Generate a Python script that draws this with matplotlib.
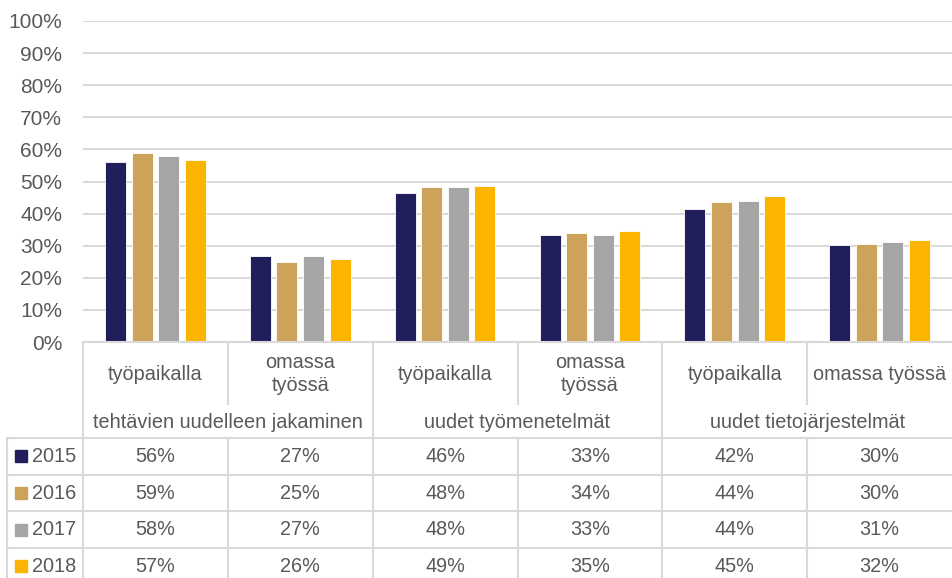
import numpy as np
import matplotlib
matplotlib.use("Agg")
import matplotlib.pyplot as plt

plt.rcParams['font.family'] = ['Liberation Sans', 'DejaVu Sans']

# data
groups = ["tehtävien uudelleen jakaminen", "uudet työmenetelmät", "uudet tietojärjestelmät"]
subcats = ["työpaikalla", "omassa\ntyössä", "työpaikalla", "omassa\ntyössä", "työpaikalla", "omassa työssä"]
years = ["2015", "2016", "2017", "2018"]
colors = ["#201F5B", "#CDA25A", "#A5A5A5", "#FBB500"]
v2015 = [56.2, 26.9, 46.4, 33.4, 41.5, 30.1]
v2016 = [58.8, 24.8, 48.4, 34.1, 43.7, 30.4]
v2017 = [58.0, 26.7, 48.3, 33.3, 43.8, 31.1]
v2018 = [56.8, 25.8, 48.7, 34.6, 45.4, 31.7]
series = [v2015, v2016, v2017, v2018]

txt = "#595959"
grid = "#D9D9D9"
fs = 14.3
W, H = 952, 578
fig = plt.figure(figsize=(W / 100, H / 100), dpi=100)

x0, base, top = 83, 342, 21
ax = fig.add_axes([x0 / W, (H - base) / H, (W - x0) / W, (base - top) / H])
n = len(subcats)
centers = np.arange(n) + 0.5
pitch, bw = 0.183, 0.145
for k, (vals, c) in enumerate(zip(series, colors)):
    ax.bar(centers + (k - 1.5) * pitch, vals, width=bw, color=c,
           edgecolor="white", linewidth=0.6, zorder=3)
ax.set_xlim(0, n)
ax.set_ylim(0, 100)
ax.set_yticks(range(0, 101, 10))
ax.set_yticklabels([f"{t}%" for t in range(0, 101, 10)], fontsize=15, color=txt)
ax.tick_params(axis="y", length=0, pad=15)
ax.set_xticks([])
ax.grid(axis="y", color=grid, linewidth=1.5, zorder=0)
for s in ax.spines.values():
    s.set_visible(False)

# data table below the plot, in category units horizontally and pixel rows vertically
unit = (W - x0) / n
tb = fig.add_axes([0, 0, 1, (H - base) / H])
tb.set_xlim(-x0 / unit, n)
tb.set_ylim(H, base)
tb.axis("off")
lk = dict(color=grid, linewidth=1.5, clip_on=False)
leg_left = -(x0 - 7) / unit
row0, rh = 438, 36.7
sub_end = 404

tb.plot([0, n], [base, base], **lk)
tb.plot([0, 0], [base, H], **lk)
for i in range(1, n):
    if i % 2 == 0:
        tb.plot([i, i], [base, H], **lk)
    else:
        tb.plot([i, i], [base, sub_end], **lk)
        tb.plot([i, i], [row0, H], **lk)
tb.plot([leg_left, leg_left], [row0, H], **lk)
for r in range(len(years)):
    y = row0 + r * rh
    tb.plot([leg_left, n], [y, y], **lk)

for i, s in enumerate(subcats):
    tb.text(i + 0.5, 374, s, ha="center", va="center", fontsize=fs, color=txt,
            linespacing=1.3)
for g, name in enumerate(groups):
    tb.text(2 * g + 1, 423, name, ha="center", va="center", fontsize=fs, color=txt)

sq = 12 / unit
for r, (yr, vals, c) in enumerate(zip(years, series, colors)):
    yc = row0 + r * rh + rh / 2
    tb.add_patch(plt.Rectangle(((15 - x0) / unit, yc - 6), sq, 12, color=c,
                               clip_on=False))
    tb.text((32 - x0) / unit, yc, yr, ha="left", va="center", fontsize=fs, color=txt)
    for i, v in enumerate(vals):
        tb.text(i + 0.5, yc, f"{round(v):.0f}%", ha="center", va="center",
                fontsize=fs, color=txt)

fig.savefig("out.png", dpi=100)
